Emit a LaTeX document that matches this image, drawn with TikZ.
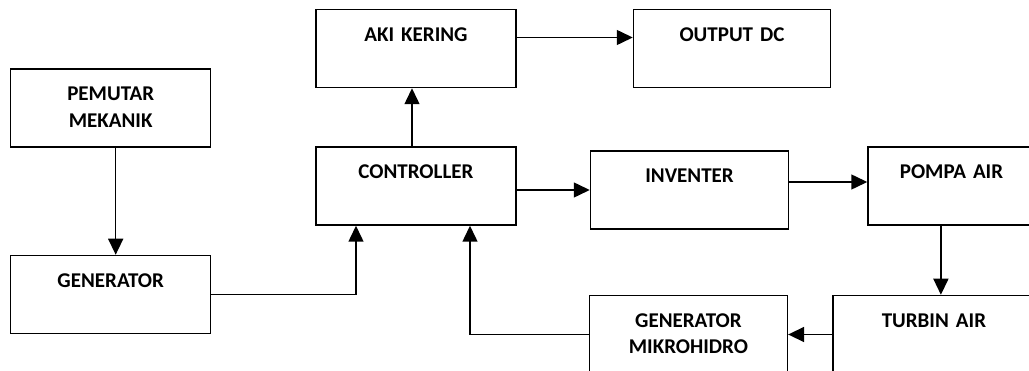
\documentclass[tikz,border=0pt]{standalone}
\usepackage{fontspec}
\setmainfont[WordSpace=0.7]{Carlito}
\usetikzlibrary{positioning, arrows.meta}

\begin{document}
\begin{tikzpicture}[x=1pt, y=-1pt]
	\tikzstyle{blok}=[draw, line width=1.5pt, rectangle, minimum width=200pt, minimum height=78pt, text width=190pt, align=center, inner xsep=5pt, inner ysep=0pt, text height=31.8pt, text depth=46.2pt, font=\fontsize{21}{26.7}\selectfont\bfseries]
	\tikzstyle{panah}=[draw, line width=1.5pt, -{Triangle[length=16pt,width=15pt]}]

	\clip (0,0) rectangle (1029,371);

	\node[blok] (pemutar) at (110.7,108) {PEMUTAR\\MEKANIK};
	\node[blok, below=107pt of pemutar] (generator) {GENERATOR};
	\node[blok] (controller) at (416,186) {CONTROLLER};
	\node[blok, above=58pt of controller] (aki) {AKI KERING};
	\node[blok, right=116pt of aki, minimum width=197pt, text width=187pt] (output) {OUTPUT DC};
	\node[blok, right=73pt of controller, yshift=-4pt, minimum width=198pt, text width=188pt] (inventer) {INVENTER};
	\node[blok, right=78pt of inventer, yshift=4pt, minimum width=167pt, text width=157pt] (pompa) {POMPA AIR};
	\node[blok, below=69pt of pompa, xshift=-17.6pt, minimum width=202pt, text width=192pt] (turbin) {TURBIN AIR};
	\node[blok, left=44pt of turbin, minimum width=198pt, text width=188pt] (genmikro) {GENERATOR\\MIKROHIDRO};

	\draw[panah] ([xshift=5pt]pemutar.south) -- ([xshift=5pt]generator.north);
	\draw[panah] ([xshift=-4pt]controller.north) -- ([xshift=-4pt]aki.south);
	\draw[panah] ([yshift=11pt]aki.east) -- ([yshift=11pt]output.west);
	\draw[panah] (controller.east |- inventer.west) -- (inventer.west);
	\draw[panah] ([yshift=8pt]inventer.east) -- ([yshift=8pt]inventer.east -| pompa.west);
	\draw[panah] ([xshift=7pt]turbin.north |- pompa.south) -- ([xshift=7pt]turbin.north);
	\draw[panah] (turbin.west) -- (genmikro.east);
	\draw[panah] (generator.east) -| ([xshift=-60pt]controller.south);
	\draw[panah] (genmikro.west) -| ([xshift=54pt]controller.south);
\end{tikzpicture}
\end{document}
